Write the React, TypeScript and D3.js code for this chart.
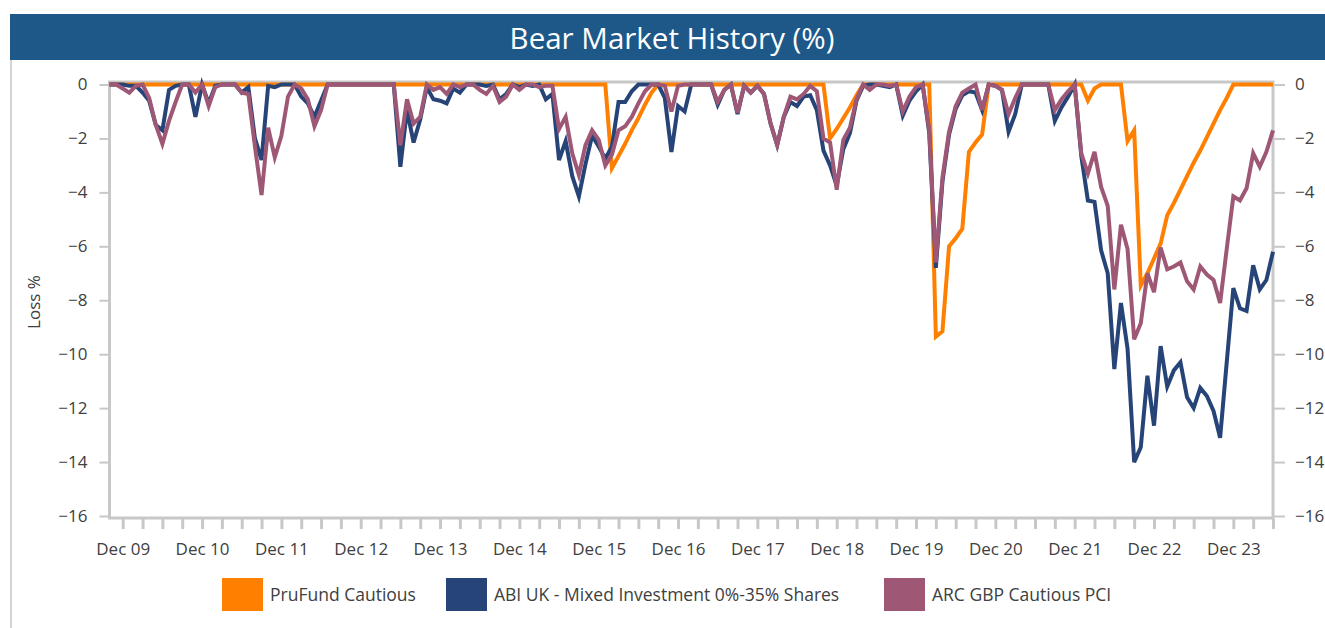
import React, { useRef, useEffect } from 'react';
import * as d3 from 'd3';

// monthly drawdowns, Oct 2009 .. Jun 2024 (one row = 12 months from Oct)
const pruFundCautious = [
  0, 0, 0, 0, 0, 0, 0, 0, 0, 0, 0, 0,
  0, 0, 0, 0, 0, 0, 0, 0, 0, 0, 0, 0,
  0, 0, 0, 0, 0, 0, 0, 0, 0, 0, 0, 0,
  0, 0, 0, 0, 0, 0, 0, 0, 0, 0, 0, 0,
  0, 0, 0, 0, 0, 0, 0, 0, 0, 0, 0, 0,
  0, 0, 0, 0, 0, 0, 0, 0, 0, 0, 0, 0,
  0, 0, 0, 0, -3.1, -2.65, -2.2, -1.7, -1.25, -0.75, -0.3, 0,
  0, 0, 0, 0, 0, 0, 0, 0, 0, 0, 0, 0,
  0, 0, 0, 0, 0, 0, 0, 0, 0, 0, 0, 0,
  0, -2.0, -1.65, -1.25, -0.85, -0.4, 0, 0, 0, 0, 0, 0,
  0, 0, 0, 0, 0, -9.35, -9.15, -6.0, -5.7, -5.35, -2.5, -2.15,
  -1.85, 0, 0, 0, 0, 0, 0, 0, 0, 0, 0, 0,
  0, 0, 0, 0, -0.6, -0.15, 0, 0, 0, 0, -2.1, -1.7,
  -7.45, -7.0, -6.45, -5.9, -4.85, -4.4, -3.9, -3.4, -2.9, -2.45, -1.95, -1.45,
  -0.95, -0.5, 0, 0, 0, 0, 0, 0, 0,
];

const abiMixed = [
  0, 0, 0, -0.05, -0.05, -0.3, -0.6, -1.5, -1.7, -0.2, -0.05, 0,
  0, -1.2, 0, -0.7, -0.05, 0, 0, 0, -0.3, -0.1, -2.0, -2.8,
  -0.05, -0.1, 0, 0, 0, -0.45, -0.7, -1.2, -0.6, 0, 0, 0,
  0, 0, 0, 0, 0, 0, 0, 0, -3.05, -0.95, -2.15, -1.3,
  -0.1, -0.55, -0.6, -0.7, -0.15, -0.3, 0, 0, 0, -0.05, 0, -0.55,
  -0.35, 0, -0.1, 0, -0.05, 0, -0.55, -0.35, -2.8, -2.1, -3.4, -4.15,
  -2.95, -1.9, -2.3, -2.75, -2.3, -0.65, -0.65, -0.25, 0, 0, 0, 0,
  -0.5, -2.5, -0.8, -1.0, 0, 0, 0, 0, -0.75, -0.2, 0, -1.1,
  -0.05, -0.3, -0.05, -0.35, -1.45, -2.25, -1.2, -0.65, -0.8, -0.45, -0.4, -0.95,
  -2.45, -3.0, -3.75, -2.4, -1.8, -0.6, -0.05, 0, 0, -0.05, -0.1, 0,
  -1.15, -0.6, -0.25, 0, -1.8, -6.8, -3.6, -1.85, -0.9, -0.4, -0.25, -0.3,
  -0.95, 0, -0.05, -0.2, -1.75, -1.1, 0, 0, 0, 0, 0, -1.35,
  -0.85, -0.45, 0, -2.65, -4.3, -4.35, -6.15, -7.0, -10.55, -8.1, -9.8, -14.0,
  -13.45, -10.8, -12.65, -9.7, -11.2, -10.6, -10.3, -11.6, -12.0, -11.25, -11.55, -12.1,
  -13.1, -10.3, -7.55, -8.3, -8.4, -6.7, -7.6, -7.25, -6.2,
];

const arcCautious = [
  0, 0, -0.15, -0.3, -0.05, 0, -0.5, -1.5, -2.2, -1.35, -0.65, 0,
  0, -0.3, 0, -0.8, -0.1, 0, 0, 0, -0.3, -0.35, -2.3, -4.1,
  -1.6, -2.7, -1.9, -0.45, 0, -0.15, -0.55, -1.55, -0.95, 0, 0, 0,
  0, 0, 0, 0, 0, 0, 0, 0, -2.25, -0.55, -1.45, -1.2,
  0, -0.2, -0.1, -0.35, 0, -0.1, 0, 0, -0.2, -0.35, -0.05, -0.65,
  -0.45, 0, -0.2, 0, 0, -0.1, -0.05, -0.05, -1.65, -1.2, -2.55, -3.35,
  -2.25, -1.7, -2.05, -3.0, -2.6, -1.7, -1.55, -1.2, -0.7, -0.25, 0, 0,
  -0.05, -1.0, -0.05, 0, 0, 0, 0, 0, -0.65, -0.2, 0, -1.05,
  -0.05, -0.3, -0.05, -0.35, -1.45, -2.25, -1.2, -0.45, -0.55, -0.35, -0.05, -0.25,
  -2.0, -2.15, -3.9, -2.05, -1.6, -0.55, 0, -0.2, 0, 0, -0.05, 0,
  -1.0, -0.45, -0.1, 0, -1.7, -6.6, -3.45, -1.75, -0.8, -0.3, -0.15, 0,
  -0.95, 0, -0.05, -0.2, -1.1, -0.5, 0, 0, 0, 0, 0, -0.95,
  -0.55, -0.25, 0, -2.55, -3.3, -2.5, -3.8, -4.5, -7.6, -5.2, -6.1, -9.45,
  -8.85, -7.0, -7.7, -6.05, -6.85, -6.75, -6.6, -7.3, -7.6, -6.75, -7.05, -7.25,
  -8.1, -6.1, -4.15, -4.3, -3.85, -2.55, -3.05, -2.5, -1.7,
];

const months = pruFundCautious.map((_, i) => new Date(2009, 9 + i, 1));
const yTicks = [0, -2, -4, -6, -8, -10, -12, -14, -16];

const seriesNames = ["PruFund Cautious", "ABI UK - Mixed Investment 0%-35% Shares", "ARC GBP Cautious PCI"];
const seriesColors = ["#ff8000", "#264478", "#9e5876"];

const FONT = "'Open Sans', 'Noto Sans', sans-serif";

function App() {
  const svgRef = useRef(null);

  useEffect(() => {
    const svg = d3.select(svgRef.current);
    svg.selectAll("*").remove();

    const width = 1325;
    const height = 628;
    const left = 109.5;
    const right = 1273;
    const frameTop = 82;
    const frameBottom = 518;

    // card + title
    svg.append("line")
      .attr("x1", 11).attr("x2", 11).attr("y1", 60).attr("y2", height)
      .attr("stroke", "#d4d4d4").attr("stroke-width", 2);
    svg.append("rect")
      .attr("x", 10).attr("y", 14).attr("width", width - 10).attr("height", 46)
      .attr("fill", "#1d5889");
    svg.append("text")
      .attr("x", 672).attr("y", 49)
      .attr("text-anchor", "middle")
      .attr("fill", "#ffffff")
      .attr("font-family", FONT)
      .attr("font-size", "29.5px")
      .text("Bear Market History (%)");

    const x = d3.scaleLinear()
      .domain([0, months.length - 1])
      .range([left, right]);
    const y = d3.scaleLinear()
      .domain([0, -16])
      .range([84.5, 516]);

    // plot frame
    svg.append("rect")
      .attr("x", left).attr("y", frameTop)
      .attr("width", right - left).attr("height", frameBottom - frameTop)
      .attr("fill", "none")
      .attr("stroke", "#c8c8c8")
      .attr("stroke-width", 3);

    const styleAxis = (g) => {
      g.select(".domain").remove();
      g.selectAll(".tick line").attr("stroke", "#c8c8c8").attr("stroke-width", 2);
      g.selectAll(".tick text")
        .attr("fill", "#404040")
        .attr("font-family", FONT)
        .attr("font-size", "17px");
    };

    svg.append("g")
      .attr("transform", `translate(${left - 1},0)`)
      .call(d3.axisLeft(y).tickValues(yTicks).tickSize(9).tickPadding(12).tickFormat(d3.format("d")))
      .call(styleAxis);

    svg.append("g")
      .attr("transform", `translate(${right + 1},0)`)
      .call(d3.axisRight(y).tickValues(yTicks).tickSize(11).tickPadding(10).tickFormat(d3.format("d")))
      .call(styleAxis);

    const quarterIdx = months.map((m, i) => i).filter(i => months[i].getMonth() % 3 === 2);
    const fmt = d3.timeFormat("%b %y");
    svg.append("g")
      .attr("transform", `translate(0,${frameBottom + 1})`)
      .call(d3.axisBottom(x).tickValues(quarterIdx).tickSize(10).tickPadding(14)
        .tickFormat(i => months[i].getMonth() === 11 ? fmt(months[i]) : ""))
      .call(styleAxis)
      .call(g => g.selectAll(".tick line").attr("stroke-width", 3));

    svg.append("text")
      .attr("transform", `translate(40,${302}) rotate(-90)`)
      .attr("text-anchor", "middle")
      .attr("fill", "#404040")
      .attr("font-family", FONT)
      .attr("font-size", "17px")
      .text("Loss %");

    const line = d3.line().x((d, i) => x(i)).y(d => y(d));
    [pruFundCautious, abiMixed, arcCautious].forEach((vals, k) => {
      svg.append("path")
        .datum(vals)
        .attr("d", line)
        .attr("fill", "none")
        .attr("stroke", seriesColors[k])
        .attr("stroke-width", 4)
        .attr("stroke-linejoin", "miter");
    });

    // legend
    const legendX = [222, 446, 884];
    seriesNames.forEach((name, k) => {
      svg.append("rect")
        .attr("x", legendX[k]).attr("y", 578)
        .attr("width", 41).attr("height", 33)
        .attr("fill", seriesColors[k]);
      svg.append("text")
        .attr("x", legendX[k] + 48).attr("y", 601)
        .attr("fill", "#404040")
        .attr("font-family", FONT)
        .attr("font-size", "17.5px")
        .text(name);
    });
  }, []);

  return (
    <svg ref={svgRef} width={1325} height={628}
      style={{ position: "absolute", left: 0, top: 0, background: "#ffffff" }} />
  );
}

export default App;
